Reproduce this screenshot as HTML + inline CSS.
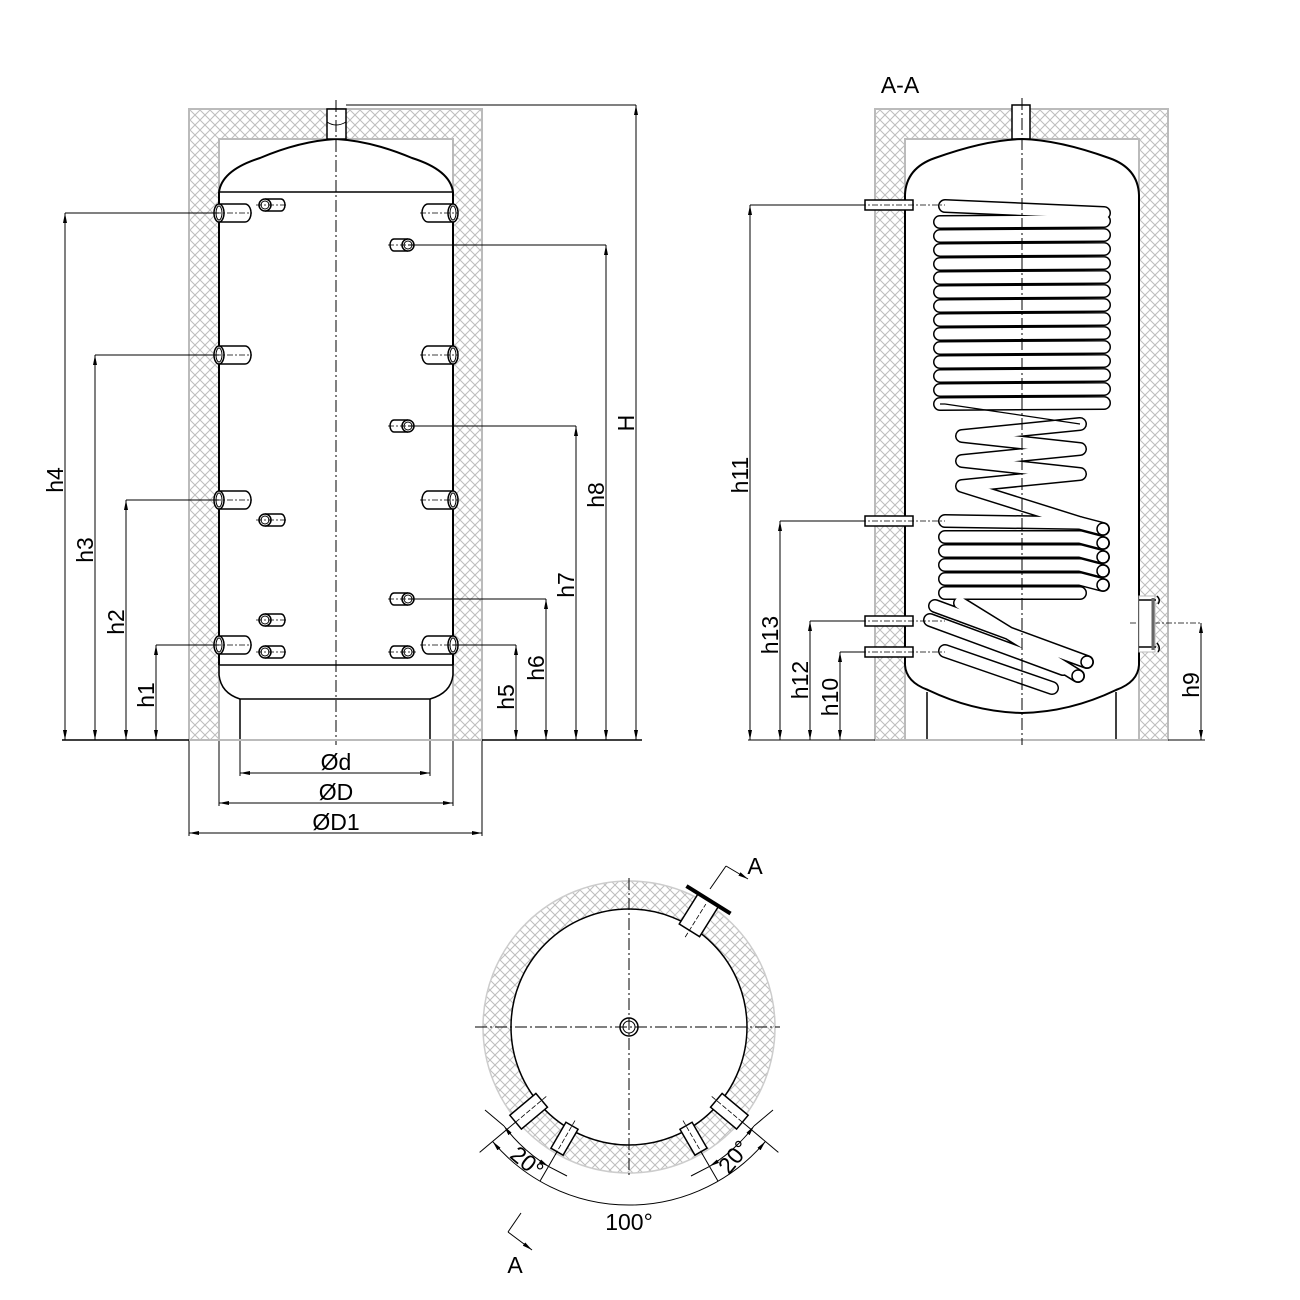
<!DOCTYPE html>
<html><head><meta charset="utf-8"><style>
html,body{margin:0;padding:0;background:#fff}
svg{display:block}
text{font-family:"Liberation Sans",sans-serif;fill:#000}
</style></head><body>
<svg width="1300" height="1300" viewBox="0 0 1300 1300" xmlns="http://www.w3.org/2000/svg">
<defs>
<pattern id="hx" width="10" height="10" patternUnits="userSpaceOnUse">
<rect width="10" height="10" fill="#fff"/>
<path d="M0,0L10,10M10,0L0,10" stroke="#bdbdbd" stroke-width="1"/>
</pattern>
<marker id="ar" viewBox="0 0 10 4" refX="10" refY="2" markerWidth="10" markerHeight="4" orient="auto-start-reverse" markerUnits="userSpaceOnUse">
<path d="M0,0L10,2L0,4z" fill="#000"/>
</marker>
</defs>

<!-- ============ LEFT VIEW ============ -->
<path d="M189,109H482V740H453V139H219V740H189Z" fill="url(#hx)" stroke="#bbb" stroke-width="2"/>
<path d="M219,192 Q222,170 260,158 Q300,141 336,139 Q372,141 412,158 Q450,170 453,192" fill="none" stroke="#000" stroke-width="2"/>
<line x1="219" y1="192" x2="219" y2="665" stroke="#000" stroke-width="2"/>
<line x1="453" y1="192" x2="453" y2="665" stroke="#000" stroke-width="2"/>
<line x1="219" y1="192" x2="453" y2="192" stroke="#000" stroke-width="1.5"/>
<line x1="219" y1="665" x2="453" y2="665" stroke="#000" stroke-width="1.5"/>
<path d="M219,665 V675 Q221,693 240,699 H430 Q451,693 453,675 V665" fill="none" stroke="#000" stroke-width="1.5"/>
<path d="M240,699V740M430,699V740" stroke="#000" stroke-width="1.5"/>
<line x1="219" y1="740" x2="219" y2="806" stroke="#000" stroke-width="1"/>
<line x1="453" y1="740" x2="453" y2="806" stroke="#000" stroke-width="1"/>
<line x1="240" y1="740" x2="240" y2="776" stroke="#000" stroke-width="1"/>
<line x1="430" y1="740" x2="430" y2="776" stroke="#000" stroke-width="1"/>
<line x1="189" y1="740" x2="189" y2="836" stroke="#000" stroke-width="1"/>
<line x1="482" y1="740" x2="482" y2="836" stroke="#000" stroke-width="1"/>
<rect x="327" y="109" width="19" height="30" fill="#fff" stroke="#000" stroke-width="1.5"/>
<path d="M327,122 Q336,128 346,122" fill="none" stroke="#000"/>
<line x1="336" y1="100" x2="336" y2="745" stroke="#000" stroke-width="1" stroke-dasharray="12,3,2,3"/>
<line x1="62" y1="740" x2="189" y2="740" stroke="#000" stroke-width="1.5"/>
<line x1="482" y1="740" x2="642" y2="740" stroke="#000" stroke-width="1.5"/>
<line x1="189" y1="740" x2="482" y2="740" stroke="#bbb" stroke-width="2"/>
<g stroke="#000" stroke-width="1.5" fill="#fff">
<g id="bpL"><path d="M219,204H245A6,9 0 0 1 245,222H219"/><ellipse cx="219" cy="213" rx="5" ry="9"/><ellipse cx="219" cy="213" rx="3" ry="7" fill="none" stroke-width="1"/></g>
<use href="#bpL" y="142"/><use href="#bpL" y="287"/><use href="#bpL" y="432"/>
<g id="bpR"><path d="M453,204H428A6,9 0 0 0 428,222H453"/><ellipse cx="453" cy="213" rx="5" ry="9"/><ellipse cx="453" cy="213" rx="3" ry="7" fill="none" stroke-width="1"/></g>
<use href="#bpR" y="142"/><use href="#bpR" y="287"/><use href="#bpR" y="432"/>
<g id="spL"><path d="M265,199H281A4,6 0 0 1 281,211H265"/><circle cx="265" cy="205" r="6"/><circle cx="265" cy="205" r="4" fill="none" stroke-width="1"/></g>
<use href="#spL" y="315"/><use href="#spL" y="415"/><use href="#spL" y="447"/>
<g id="spR"><path d="M408,239H394A4,6 0 0 0 394,251H408"/><circle cx="408" cy="245" r="6"/><circle cx="408" cy="245" r="4" fill="none" stroke-width="1"/></g>
<use href="#spR" y="181"/><use href="#spR" y="354"/><use href="#spR" y="407"/>
</g>
<g stroke="#000" stroke-width="0.8" stroke-dasharray="6,2,2,2">
<path d="M215,213H252M215,355H252M215,500H252M215,645H252M420,213H458M420,355H458M420,500H458M420,645H458"/>
<path d="M256,205H288M256,520H288M256,620H288M256,652H288M388,245H416M388,426H416M388,599H416M388,652H416"/>
</g>
<g stroke="#000" stroke-width="1" fill="none">
<path d="M65,213H219M95,355H219M126,500H219M156,645H219"/>
<path d="M408,245H606M408,426H576M408,599H546M453,645H516M346,105H636"/>
</g>
<g stroke="#000" stroke-width="1" marker-start="url(#ar)" marker-end="url(#ar)">
<line x1="65" y1="213" x2="65" y2="740"/>
<line x1="95" y1="355" x2="95" y2="740"/>
<line x1="126" y1="500" x2="126" y2="740"/>
<line x1="156" y1="645" x2="156" y2="740"/>
<line x1="516" y1="645" x2="516" y2="740"/>
<line x1="546" y1="599" x2="546" y2="740"/>
<line x1="576" y1="426" x2="576" y2="740"/>
<line x1="606" y1="245" x2="606" y2="740"/>
<line x1="636" y1="105" x2="636" y2="740"/>
<line x1="240" y1="773" x2="430" y2="773"/>
<line x1="219" y1="803" x2="453" y2="803"/>
<line x1="189" y1="833" x2="482" y2="833"/>
</g>
<g font-size="23">
<text transform="translate(63,480) rotate(-90)" text-anchor="middle">h4</text>
<text transform="translate(93,550) rotate(-90)" text-anchor="middle">h3</text>
<text transform="translate(124,622) rotate(-90)" text-anchor="middle">h2</text>
<text transform="translate(154,695) rotate(-90)" text-anchor="middle">h1</text>
<text transform="translate(514,697) rotate(-90)" text-anchor="middle">h5</text>
<text transform="translate(544,668) rotate(-90)" text-anchor="middle">h6</text>
<text transform="translate(574,585) rotate(-90)" text-anchor="middle">h7</text>
<text transform="translate(604,495) rotate(-90)" text-anchor="middle">h8</text>
<text transform="translate(634,423) rotate(-90)" text-anchor="middle">H</text>
<text x="336" y="770" text-anchor="middle">Ød</text>
<text x="336" y="800" text-anchor="middle">ØD</text>
<text x="336" y="830" text-anchor="middle">ØD1</text>
</g>

<!-- ============ SECTION A-A ============ -->
<text x="900" y="93" font-size="23" text-anchor="middle">A-A</text>
<path d="M875,109H1168V740H1139V139H905V740H875Z" fill="url(#hx)" stroke="#bbb" stroke-width="2"/>
<rect x="1012" y="105" width="18" height="34" fill="#fff" stroke="#000" stroke-width="1.5"/>
<path d="M905,195 Q906,168 935,158 Q985,140 1022,139 Q1059,140 1109,158 Q1138,168 1139,195 V665 Q1138,682 1116,690 Q1070,712 1022,713 Q974,712 928,690 Q906,682 905,665 Z" fill="#fff" stroke="#000" stroke-width="2"/>
<path d="M927,692V740M1116,692V740" stroke="#000" stroke-width="1.5"/>
<line x1="875" y1="740" x2="1168" y2="740" stroke="#bbb" stroke-width="2"/>
<g fill="none" stroke-linecap="round" stroke-linejoin="round">
<g id="coil">
<path d="M945,206 L1104,213"/>
<path d="M940,222 L1104,221 M940,236 L1104,235 M940,250 L1104,249 M940,264 L1104,263 M940,278 L1104,277 M940,292 L1104,291 M940,306 L1104,305 M940,320 L1104,319 M940,334 L1104,333 M940,348 L1104,347 M940,362 L1104,361 M940,376 L1104,375 M940,390 L1104,389 M940,404 L1104,403"/>
<path d="M1080,424 L962,436 L1080,449 L962,461 L1080,474 L962,486 L1080,523 L945,521"/>
<path d="M945,537 L1080,537 M945,551 L1080,551 M945,565 L1080,565 M945,579 L1080,579 M945,593 L1080,593 M1080,523 L1103,529 M1080,537 L1103,543 M1080,551 L1103,557 M1080,565 L1103,571 M1080,579 L1103,585"/>
<path d="M935,606 L1087,662 M960,603 L1078,676 M930,620 L1063,669 M945,651 L1052,688"/>
</g>
</g>
<g fill="none" stroke-linecap="round" stroke-linejoin="round">
<use href="#coil" stroke="#000" stroke-width="14"/>
<use href="#coil" stroke="#fff" stroke-width="11"/>
</g>
<path d="M945,404 L1080,424 M940,404 L945,404" fill="none" stroke="#000" stroke-width="1.2"/>
<g fill="#fff" stroke="#000" stroke-width="1.5">
<circle cx="1103" cy="529" r="6"/><circle cx="1103" cy="543" r="6"/><circle cx="1103" cy="557" r="6"/><circle cx="1103" cy="571" r="6"/><circle cx="1103" cy="585" r="6"/>
<circle cx="1087" cy="662" r="6"/><circle cx="1078" cy="676" r="6"/>
</g>
<g fill="#fff" stroke="#000" stroke-width="1.5">
<rect x="865" y="200" width="48" height="10"/><rect x="865" y="516" width="48" height="10"/><rect x="865" y="616" width="48" height="10"/><rect x="865" y="647" width="48" height="10"/>
</g>
<line x1="1022" y1="98" x2="1022" y2="745" stroke="#000" stroke-width="1" stroke-dasharray="12,3,2,3"/>
<g stroke="#000" stroke-width="0.8" stroke-dasharray="6,2,2,2">
<path d="M860,205H945M860,521H945M860,621H945M860,652H945M1130,623H1200"/>
</g>
<rect x="1139" y="596" width="16" height="56" fill="#fff" stroke="#bbb"/>
<path d="M1139,600H1156M1139,647H1156" stroke="#000" stroke-width="1.5"/>
<path d="M1153,598V650" stroke="#666" stroke-width="3"/>
<path d="M1157,596Q1161,600 1158,604M1157,643Q1161,648 1158,652" fill="none" stroke="#000" stroke-width="1.5"/>
<g stroke="#000" stroke-width="1" fill="none">
<path d="M748,740H875M1168,740H1205"/>
<path d="M750,205H865M780,521H865M810,621H865M840,652H865"/>
</g>
<g stroke="#000" stroke-width="1" marker-start="url(#ar)" marker-end="url(#ar)">
<line x1="750" y1="205" x2="750" y2="740"/>
<line x1="780" y1="521" x2="780" y2="740"/>
<line x1="810" y1="621" x2="810" y2="740"/>
<line x1="840" y1="652" x2="840" y2="740"/>
<line x1="1201" y1="623" x2="1201" y2="740"/>
</g>
<g font-size="23">
<text transform="translate(748,475) rotate(-90)" text-anchor="middle">h11</text>
<text transform="translate(778,635) rotate(-90)" text-anchor="middle">h13</text>
<text transform="translate(808,680) rotate(-90)" text-anchor="middle">h12</text>
<text transform="translate(838,697) rotate(-90)" text-anchor="middle">h10</text>
<text transform="translate(1199,685) rotate(-90)" text-anchor="middle">h9</text>
</g>

<!-- ============ TOP VIEW ============ -->
<path d="M483,1027a146,146 0 1,0 292,0a146,146 0 1,0 -292,0Z M511,1027a118,118 0 1,0 236,0a118,118 0 1,0 -236,0Z" fill="url(#hx)" fill-rule="evenodd" stroke="none"/>
<circle cx="629" cy="1027" r="146" fill="none" stroke="#ccc" stroke-width="1.5"/>
<circle cx="629" cy="1027" r="118" fill="none" stroke="#000" stroke-width="1.5"/>
<circle cx="629" cy="1027" r="9" fill="#fff" stroke="#000" stroke-width="1.5"/>
<circle cx="629" cy="1027" r="6" fill="none" stroke="#000" stroke-width="1"/>
<g stroke="#000" stroke-width="1" stroke-dasharray="12,3,2,3">
<line x1="475" y1="1027" x2="780" y2="1027"/>
<line x1="629" y1="878" x2="629" y2="1178"/>
</g>
<g transform="translate(629,1027)" fill="#fff" stroke="#000" stroke-width="1.5">
<g transform="rotate(50)"><rect x="-9" y="114" width="18" height="34"/><line x1="0" y1="108" x2="0" y2="150" stroke-dasharray="5,2" stroke-width="0.8"/></g>
<g transform="rotate(30)"><rect x="-7" y="114" width="14" height="30"/><line x1="0" y1="108" x2="0" y2="150" stroke-dasharray="5,2" stroke-width="0.8"/></g>
<g transform="rotate(-30)"><rect x="-7" y="114" width="14" height="30"/><line x1="0" y1="108" x2="0" y2="150" stroke-dasharray="5,2" stroke-width="0.8"/></g>
<g transform="rotate(-50)"><rect x="-9" y="114" width="18" height="34"/><line x1="0" y1="108" x2="0" y2="150" stroke-dasharray="5,2" stroke-width="0.8"/></g>
<g transform="rotate(212)"><rect x="-12" y="114" width="24" height="36"/><line x1="-26" y1="150" x2="26" y2="150" stroke-width="4"/><line x1="0" y1="106" x2="0" y2="145" stroke-dasharray="5,2" stroke-width="0.8"/></g>
<g stroke-width="1" fill="none">
<g transform="rotate(50)"><line x1="0" y1="148" x2="0" y2="195"/></g>
<g transform="rotate(-50)"><line x1="0" y1="148" x2="0" y2="195"/></g>
<g transform="rotate(30)"><line x1="0" y1="144" x2="0" y2="178"/></g>
<g transform="rotate(-30)"><line x1="0" y1="144" x2="0" y2="178"/></g>
</g>
</g>
<g fill="none" stroke="#000" stroke-width="1" marker-start="url(#ar)" marker-end="url(#ar)">
<path d="M492.6,1141.4 A178,178 0 0,0 765.4,1141.4"/>
<path d="M548.5,1166.4 A161,161 0 0,1 504,1126"/>
<path d="M709.5,1166.4 A161,161 0 0,0 754,1126"/>
</g>
<path d="M548.5,1166.4 L567,1176 M709.5,1166.4 L691,1176 M504,1126 L485,1110 M754,1126 L773,1110" stroke="#000" stroke-width="1"/>
<g font-size="23">
<text x="629" y="1230" text-anchor="middle">100°</text>
<text transform="translate(522,1168) rotate(40)" text-anchor="middle">20°</text>
<text transform="translate(740,1162) rotate(-50)" text-anchor="middle">20°</text>
<text x="755" y="874" text-anchor="middle">A</text>
<text x="515" y="1273" text-anchor="middle">A</text>
</g>
<g stroke="#000" stroke-width="1" fill="none">
<path d="M710,889 L726,866"/>
<line x1="726" y1="866" x2="748" y2="879" marker-end="url(#ar)"/>
<path d="M521,1213 L508,1232"/>
<line x1="508" y1="1232" x2="532" y2="1250" marker-end="url(#ar)"/>
</g>
</svg>
</body></html>
